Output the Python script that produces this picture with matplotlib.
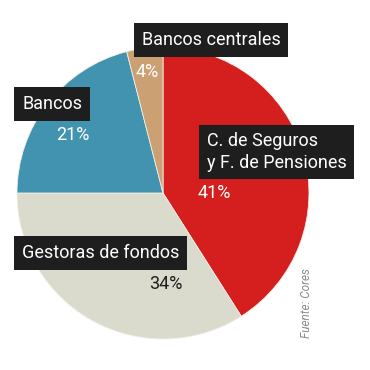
import matplotlib
matplotlib.use("Agg")
import matplotlib.pyplot as plt

categories = ["C. de Seguros\ny F. de Pensiones", "Gestoras de fondos", "Bancos", "Bancos centrales"]
values = [41, 34, 21, 4]
pct_labels = ["41%", "34%", "21%", "4%"]
colors = ["#D41F1E", "#DADBCD", "#4293B0", "#CBA072"]

W = H = 370
fig = plt.figure(figsize=(3.7, 3.7), dpi=100)
ax = fig.add_axes([0, 0, 1, 1])
cx, cy, r = 163, H - 193, 146
ax.pie(values, colors=colors, startangle=90, counterclock=False,
       center=(cx, cy), radius=r, frame=True,
       wedgeprops=dict(edgecolor="#f2efe6", linewidth=0.6))
ax.set_xlim(0, W)
ax.set_ylim(0, H)
ax.set_aspect("equal")
ax.axis("off")

font = "Roboto"
box = dict(boxstyle="square,pad=0.42", fc="#1E1E1E", ec="none")

def Y(y):
    return H - y

label_x = [207, 22, 22, 142]
label_y = [152, 253, 104, 40]
for i, name in enumerate(categories):
    ax.text(label_x[i], Y(label_y[i]), name, ha="left", va="center", color="white",
            fontsize=13, family=font, bbox=box, linespacing=1.25)

pct_x = [214, 166, 73, 147]
pct_y = [193, 284, 135, 72]
pct_colors = ["white", "#1E1E1E", "white", "white"]
for i, p in enumerate(pct_labels):
    ax.text(pct_x[i], Y(pct_y[i]), p, ha="center", va="center", color=pct_colors[i],
            fontsize=13, family=font)

ax.text(307, Y(303), "Fuente: Cores", rotation=90, ha="center", va="center",
        color="#8a8a8a", fontsize=8.5, family=font, style="italic")

fig.savefig("out.png", dpi=100, facecolor="white")
